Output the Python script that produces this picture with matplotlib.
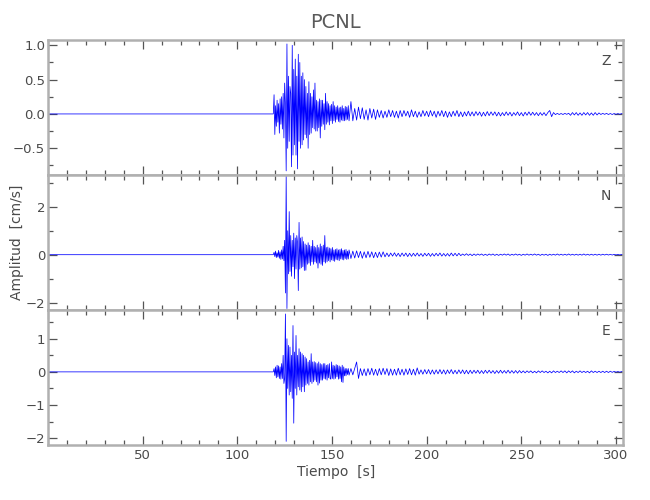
import numpy as np
import matplotlib
matplotlib.use("Agg")
import matplotlib.pyplot as plt
from matplotlib.ticker import MultipleLocator, FuncFormatter

# ---------------- data ----------------
station = "PCNL"
components = ["Z", "N", "E"]

# burst section: samples every 0.4 s starting at 119.0 s
burst_t0 = 119.0
burst_dt = 0.4
# coda section: samples every 1.0 s starting at 160 s
coda_t0 = 160.0
coda_dt = 1.0

z_burst = [0.00, 0.28, -0.30, 0.12, -0.18, 0.20, -0.12, 0.15, -0.28, 0.22,
           -0.15, 0.25, -0.22, 0.30, -0.35, 0.45, 0.15, -0.83, 1.02, -0.50,
           0.55, -0.40, 0.40, 0.30, -0.77, 1.00, -0.60, 0.65, -0.45, 0.80,
           -0.60, 0.55, -0.80, 0.87, -0.40, 0.75, -0.50, 0.55, -0.45, 0.60,
           -0.38, 0.50, -0.30, 0.40, -0.35, 0.30, -0.50, 0.47, -0.30, 0.30,
           -0.28, 0.25, -0.20, 0.35, -0.22, 0.45, -0.25, 0.20, -0.25, 0.18,
           -0.20, 0.22, -0.35, 0.20, -0.18, 0.20, -0.15, 0.15, -0.23, 0.30,
           -0.15, 0.18, -0.12, 0.15, -0.16, 0.12, -0.10, 0.14, -0.14, 0.18,
           -0.10, 0.12, -0.12, 0.10, -0.08, 0.12, -0.11, 0.09, -0.12, 0.10,
           -0.09, 0.12, -0.10, 0.08, -0.10, 0.11, -0.09, 0.10, -0.08, 0.12,
           -0.10]
z_coda = [0.18, -0.10, 0.08, -0.09, 0.10, -0.07, 0.09, -0.08, 0.06, -0.09,
          0.08, -0.06, 0.07, -0.08, 0.06, -0.05, 0.05, -0.06, 0.04, -0.05,
          0.06, -0.04, 0.05, -0.05, 0.04, -0.06, 0.05, -0.04, 0.05, -0.03,
          0.04, -0.05, 0.06, -0.04, 0.04, -0.05, 0.03, -0.04, 0.05, -0.03,
          0.04, -0.04, 0.05, -0.03, 0.04, -0.05, 0.04, -0.03, 0.05, -0.04,
          0.04, -0.05, 0.03, -0.04, 0.04, -0.03, 0.05, -0.04, 0.03, -0.04,
          0.03, -0.03, 0.04, -0.03, 0.03, -0.03, 0.035, -0.02, 0.03, -0.035,
          0.025, -0.03, 0.035, -0.025, 0.03, -0.02, 0.03, -0.03, 0.025, -0.03,
          0.02, -0.025, 0.03, -0.02, 0.025, -0.03, 0.02, -0.02, 0.03, -0.025,
          0.02, -0.03, 0.025, -0.02, 0.03, -0.02, 0.025, -0.02, 0.02, -0.025,
          0.02, -0.02, 0.02, -0.025, 0.02, 0.05, -0.04, 0.02, -0.01, 0.008,
          -0.008, 0.006, -0.008, 0.008, -0.006, 0.01, -0.02, 0.02, -0.015, 0.02,
          -0.02, 0.015, -0.02, 0.02, -0.015, 0.02, -0.02, 0.015, -0.02, 0.02,
          -0.015, 0.015, -0.008, 0.008, -0.006, 0.008, -0.008, 0.006, -0.008, 0.006,
          -0.006, 0.005, -0.005, 0.005, 0.0]

n_burst = [0.00, 0.10, -0.08, 0.15, -0.12, 0.08, -0.10, 0.18, -0.15, 0.12,
           -0.20, 0.20, -0.18, 0.35, -0.25, 0.60, -1.60, 3.30, -2.25, 1.00,
           -0.80, 1.80, -0.70, 0.80, -0.90, 0.60, -0.50, 0.90, -1.00, 0.70,
           -0.60, 0.80, 0.50, -1.50, 1.35, -0.60, 0.70, -0.55, 0.74, -0.50,
           0.55, -0.66, 0.45, -0.65, 0.40, -0.40, 0.50, -0.35, 0.40, -0.45,
           0.35, -0.30, 0.60, -0.40, 0.35, -0.30, 0.30, -0.35, 0.40, -0.56,
           0.30, -0.35, 0.45, -0.40, 0.35, -0.45, 0.40, -0.30, 0.80, -0.35,
           0.30, -0.30, 0.32, -0.25, 0.28, -0.30, 0.25, -0.22, 0.30, -0.25,
           0.20, -0.28, 0.22, -0.20, 0.25, -0.22, 0.20, -0.25, 0.22, -0.18,
           0.25, -0.20, 0.18, -0.22, 0.20, -0.16, 0.22, -0.20, 0.15, -0.18,
           0.20]
n_coda = [-0.16, 0.15, -0.14, 0.16, -0.12, 0.14, -0.15, 0.12, -0.13, 0.14,
          -0.11, 0.12, -0.13, 0.10, -0.12, 0.11, -0.10, 0.12, -0.09, 0.07,
          -0.08, 0.07, -0.06, 0.08, -0.07, 0.06, -0.08, 0.07, -0.06, 0.07,
          -0.08, 0.06, -0.07, 0.06, -0.06, 0.07, -0.06, 0.05, -0.07, 0.06,
          -0.05, 0.06, -0.07, 0.05, -0.06, 0.06, -0.05, 0.07, -0.06, 0.05,
          -0.06, 0.05, -0.06, 0.07, -0.05, 0.06, -0.05, 0.06, -0.04, 0.03,
          -0.03, 0.04, -0.03, 0.03, -0.04, 0.03, -0.03, 0.03, -0.02, 0.03,
          -0.03, 0.02, -0.03, 0.03, -0.02, 0.03, -0.03, 0.02, -0.03, 0.02,
          -0.02, 0.03, -0.02, 0.03, -0.03, 0.02, -0.02, 0.03, -0.02, 0.02,
          -0.03, 0.02, -0.02, 0.03, -0.02, 0.02, -0.02, 0.03, -0.02, 0.02,
          -0.03, 0.02, -0.02, 0.02, -0.03, 0.02, -0.02, 0.02, -0.02, 0.03,
          -0.02, 0.02, -0.02, 0.02, -0.02, 0.03, -0.02, 0.02, -0.02, 0.02,
          -0.02, 0.02, -0.02, 0.03, -0.02, 0.02, -0.02, 0.02, -0.02, 0.02,
          -0.02, 0.02, -0.02, 0.02, -0.015, 0.02, -0.015, 0.015, -0.015, 0.015,
          -0.01, 0.01, -0.01, 0.01, 0.0]

e_burst = [0.00, 0.10, -0.11, 0.15, -0.18, 0.20, -0.15, 0.18, -0.20, 0.15,
           -0.22, 0.25, -0.20, 0.50, -0.35, -0.20, 1.75, -2.10, 1.00, -0.50,
           0.80, -0.70, 0.75, -0.60, 0.50, -0.80, 1.40, -1.55, 0.60, -0.50,
           1.10, -0.70, 0.50, -0.45, 0.70, -0.55, 0.60, -0.60, 0.55, -0.45,
           0.50, -0.60, 0.45, -0.40, 0.40, -0.35, 0.30, -0.40, 0.35, -0.30,
           0.55, -0.35, 0.30, -0.30, 0.31, -0.25, 0.28, -0.30, 0.25, -0.40,
           0.30, -0.34, 0.25, -0.25, 0.22, -0.25, 0.25, -0.20, 0.25, -0.22,
           0.20, -0.25, 0.22, -0.18, 0.25, -0.20, -0.22, 0.30, -0.20, 0.20,
           -0.22, 0.18, -0.20, 0.22, -0.15, 0.20, -0.22, 0.18, -0.20, 0.15,
           -0.30, 0.20, -0.32, 0.15, -0.12, 0.10, -0.12, 0.10, -0.08, 0.10,
           -0.10]
e_coda = [0.10, -0.09, 0.10, 0.30, -0.20, 0.10, -0.11, 0.09, -0.12, 0.10,
          -0.09, 0.11, -0.10, 0.08, -0.11, 0.10, -0.09, 0.11, -0.08, 0.10,
          -0.11, 0.09, -0.10, 0.08, -0.10, 0.11, -0.09, 0.08, -0.10, 0.09,
          -0.08, 0.10, -0.09, 0.08, -0.10, 0.12, -0.07, 0.06, -0.07, 0.07,
          -0.06, 0.07, -0.07, 0.06, -0.07, 0.06, -0.06, 0.07, -0.06, 0.06,
          -0.07, 0.06, -0.05, 0.07, -0.06, 0.05, -0.06, 0.06, -0.05, 0.06,
          -0.06, 0.05, -0.06, 0.05, -0.05, 0.05, -0.04, 0.05, -0.05, 0.04,
          -0.05, 0.05, -0.04, 0.05, -0.04, 0.04, -0.05, 0.04, -0.04, 0.05,
          -0.04, 0.04, -0.04, 0.05, -0.04, 0.04, -0.04, 0.04, -0.04, 0.04,
          -0.03, 0.03, -0.03, 0.03, -0.02, 0.03, -0.03, 0.02, -0.03, 0.03,
          -0.02, 0.03, -0.02, 0.02, -0.03, 0.02, -0.03, 0.03, -0.02, 0.02,
          -0.02, 0.03, -0.02, 0.03, -0.03, 0.03, -0.02, 0.03, -0.03, 0.02,
          -0.02, 0.03, -0.02, 0.02, -0.02, 0.02, -0.03, 0.03, -0.02, 0.02,
          -0.02, 0.02, -0.02, 0.02, -0.02, 0.02, -0.02, 0.02, -0.015, 0.015,
          -0.01, 0.01, -0.01, 0.01, 0.0]

# axis ranges and ticks
t_start = 0.0
x_range = (0.0, 303.7)
x_major = 50
x_minor = 10
y_ranges = [(-0.89, 1.085), (-2.29, 3.33), (-2.21, 1.885)]
y_major = [0.5, 2, 1]
y_minor = [0.25, 1, 0.5]
y_fmt = ["%.1f", "%d", "%d"]
x_label = "Tiempo  [s]"
y_label = "Amplitud  [cm/s]"

# ---------------- build traces ----------------
def build_trace(burst, coda):
    tb = burst_t0 + burst_dt * np.arange(len(burst))
    tc = coda_t0 + coda_dt * np.arange(len(coda))
    t = np.concatenate([[t_start], tb, tc])
    v = np.concatenate([[0.0], burst, coda])
    return t, v

traces = [build_trace(z_burst, z_coda),
          build_trace(n_burst, n_coda),
          build_trace(e_burst, e_coda)]

# ---------------- styling ----------------
plt.rcParams['font.family'] = ['DejaVu Sans']
txt_color = '#4a4a4a'
spine_color = '#b0b0b0'
tick_color = '#555555'

fig = plt.figure(figsize=(6.5, 5.0), dpi=100)
left, width = 48 / 650, 575 / 650
panels = [(1 - 175 / 500, 135.5 / 500),
          (1 - 309.5 / 500, 134.5 / 500),
          (1 - 445 / 500, 135.5 / 500)]


def xfmt(val, pos):
    return "" if abs(val) < 1e-9 else "%d" % val


for k, ((bottom, height), (t, v)) in enumerate(zip(panels, traces)):
    ax = fig.add_axes([left, bottom, width, height])
    ax.plot(t, v, color='#0000ff', lw=0.55)
    ax.set_xlim(*x_range)
    ax.set_ylim(*y_ranges[k])
    ax.xaxis.set_major_locator(MultipleLocator(x_major))
    ax.xaxis.set_minor_locator(MultipleLocator(x_minor))
    ax.yaxis.set_major_locator(MultipleLocator(y_major[k]))
    ax.yaxis.set_minor_locator(MultipleLocator(y_minor[k]))
    fmt = y_fmt[k]
    ax.yaxis.set_major_formatter(FuncFormatter(
        lambda val, pos, fmt=fmt: (fmt % val).replace('-', '\u2212')))
    ax.xaxis.set_major_formatter(FuncFormatter(xfmt))
    for s in ax.spines.values():
        s.set_color(spine_color)
        s.set_linewidth(1.8)
    ax.tick_params(which='both', direction='in', top=True, right=True,
                   color=tick_color, labelcolor=txt_color, labelsize=9.5)
    ax.tick_params(which='major', length=6.5, width=0.9)
    ax.tick_params(which='minor', length=3.5, width=0.9)
    ax.tick_params(axis='y', pad=2)
    ax.tick_params(axis='x', pad=3)
    if k < 2:
        ax.tick_params(labelbottom=False)
    ax.text(0.970, 0.845, components[k], transform=ax.transAxes,
            ha='center', va='center', color=txt_color, fontsize=10)

fig.text(335.5 / 650, 1 - 22 / 500, station, ha='center', va='center',
         color='#5a5a5a', fontsize=14)
fig.text(336 / 650, 1 - 472 / 500, x_label, ha='center', va='center',
         color=txt_color, fontsize=10)
fig.text(17 / 650, 1 - 242 / 500, y_label, ha='center', va='center',
         rotation=90, color=txt_color, fontsize=10)

fig.savefig('out.png', dpi=100)
